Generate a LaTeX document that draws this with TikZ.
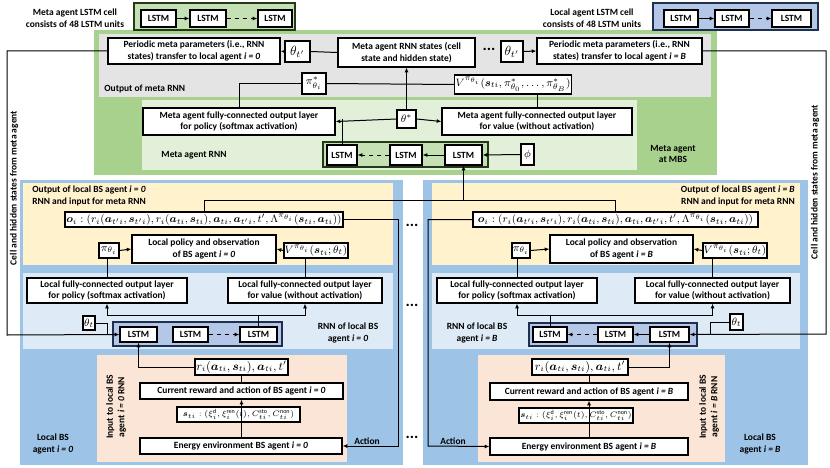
\documentclass[tikz,border=0pt]{standalone}
\usepackage{amsmath,bm}
\usepackage{fontspec}
\setmainfont{Carlito}
\usetikzlibrary{arrows.meta}
\definecolor{mgreen}{HTML}{A9D18E}
\definecolor{mgray}{HTML}{E4E4E4}
\definecolor{lgreen}{HTML}{E2F0D9}
\definecolor{rgreen}{HTML}{C5E0B4}
\definecolor{dgreen}{HTML}{243A16}
\definecolor{bblue}{HTML}{9DC3E6}
\definecolor{lblue}{HTML}{DEEBF7}
\definecolor{rblue}{HTML}{B4C7E7}
\definecolor{dblue}{HTML}{1F2F4F}
\definecolor{yel}{HTML}{FFF2CC}
\definecolor{pinkc}{HTML}{FBE5D6}
\newcommand{\bx}[7][]{\node[bxs,minimum width={((#5)-(#3))*0.75pt},minimum height={((#6)-(#4))*0.75pt},#1] (#2) at ({((#3)+(#5))/2},{((#4)+(#6))/2}) {#7};}
\begin{document}
\begin{tikzpicture}[x=0.75pt,y=-0.75pt,
  txt/.style={font=\bfseries\fontsize{7.1}{8.6}\selectfont,inner sep=0pt,align=center},
  bxs/.style={draw=black,fill=white,line width=0.9pt,inner sep=0.5pt,align=center,font=\bfseries\fontsize{7.1}{8.6}\selectfont},
  mth/.style={font=\fontsize{8}{9}\selectfont},
  big/.style={font=\fontsize{10}{10}\selectfont},
  con/.style={line width=0.75pt},
  arr/.style={line width=0.75pt,-{Latex[length=3.5pt,width=3pt]}},
  darr/.style={line width=0.75pt,-{Latex[length=3.5pt,width=3pt]},dash pattern=on 3.5pt off 2.5pt},
  dots/.style={font=\bfseries\fontsize{12}{12}\selectfont,inner sep=0pt}]
\useasboundingbox (0,0) rectangle (830,467);
% ---------- backgrounds
\fill[mgreen] (94,30) rectangle (717,175);
\fill[mgray] (99,34) rectangle (711,97);
\fill[lgreen] (142,100) rectangle (637,170);
\fill[bblue] (20,180) rectangle (403,465);
\fill[yel] (23,183) rectangle (393,265);
\fill[lblue] (23,273) rectangle (393,349);
\fill[pinkc] (97,355) rectangle (347,462);
\fill[bblue] (423,180) rectangle (808,465);
\fill[yel] (432,183) rectangle (800,265);
\fill[lblue] (432,273) rectangle (800,349);
\fill[pinkc] (478,355) rectangle (725,462);
% ---------- legends
\node[txt] (lgtxt) at (75,18) {Meta agent LSTM cell\\consists of 48 LSTM units};
\bx[fill=rgreen,draw=dgreen,line width=1.3pt]{legG}{134}{3}{295}{30}{}
\bx{gL1}{141}{10}{176}{27}{LSTM}
\bx{gL2}{190}{10}{226}{27}{LSTM}
\bx{gL3}{258}{10}{292}{27}{LSTM}
\draw[arr] (gL1.east) -- (gL2.west);
\draw[darr] (gL2.east) -- (gL3.west);
\node[txt] (rgtxt) at (592,18) {Local agent LSTM cell\\consists of 48 LSTM units};
\bx[fill=rblue,draw=dblue,line width=1.3pt]{legB}{653}{3}{818}{30}{}
\bx{bL1}{664}{10}{698}{27}{LSTM}
\bx{bL2}{715}{10}{749}{27}{LSTM}
\bx{bL3}{772}{10}{811}{27}{LSTM}
\draw[arr] (bL1.east) -- (bL2.west);
\draw[darr] (bL2.east) -- (bL3.west);
% ---------- meta agent
\bx{P0}{108}{38}{280}{64}{Periodic meta parameters (i.e., RNN\\states) transfer to local agent \textit{i = 0}}
\bx[big]{thL}{285}{41}{310}{62}{$\theta_{t'}$}
\bx{mst}{338}{38}{475}{67}{Meta agent RNN states (cell\\state and hidden state)}
\node[dots] (mdots) at (489,49) {...};
\bx[big]{thR}{501}{41}{523}{62}{$\theta_{t'}$}
\bx{PB}{537}{38}{702}{64}{Periodic meta parameters (i.e., RNN\\states) transfer to local agent \textit{i = B}}
\node[txt,anchor=west] (omr) at (104,89) {Output of meta RNN};
\bx[mth]{pistar}{302}{73}{326}{94}{$\pi^*_{\theta_i}$}
\bx[mth]{mV}{458}{75}{568}{94}{$V^{\pi_{\theta_i}}(\boldsymbol{s}_{ti},\pi^*_{\theta_0},\ldots,\pi^*_{\theta_B})$}
\bx{mpol}{143}{108}{335}{135}{Meta agent fully-connected output layer\\for policy (softmax activation)}
\bx[mth]{thstar}{397}{110}{416}{128}{$\theta^*$}
\bx{mval}{442}{108}{632}{135}{Meta agent fully-connected output layer\\for value (without activation)}
\node[txt] (mrnn) at (194,155) {Meta agent RNN};
\node[txt] (mbs) at (673,154) {Meta agent\\at MBS};
\bx[fill=rgreen,draw=dgreen,line width=1.1pt]{mrow}{323}{142}{488}{167}{}
\bx{mL1}{327}{145}{357}{165}{LSTM}
\bx{mL2}{390}{145}{422}{165}{LSTM}
\bx{mL3}{445}{145}{482}{165}{LSTM}
\bx[mth]{phi}{521}{144}{534}{165}{$\phi$}
% meta connectors
\draw[con] (mst.west) -- (thL.east);
\draw[arr] (thL.west) -- (P0.east);
\draw[arr] (thR.east) -- (PB.west);
\draw[arr] (thstar.north) -- (thstar.north |- mst.south);
\draw[arr] (thstar.west) -- (mpol.east);
\draw[arr] (thstar.east) -- (mval.west);
\draw[con] (mL1.north) -- (mL1.north |- thstar.west);
\draw[con] (mpol.north) |- (pistar.west);
\draw[con] (pistar.east) -- (mV.west);
\draw[con] (mV.south -| mval.north) -- (mval.north);
\draw[arr] (mL3.west) -- (mL2.east);
\draw[darr] (mL2.west) -- (mL1.east);
\draw[arr] (phi.west) -- (mL3.east);
% ---------- left BS agent
\node[txt,anchor=north west,align=left] (lout) at (32,186) {Output of local BS agent \textit{i = 0}\\RNN and input for meta RNN};
\bx[mth]{lo}{65}{212}{343}{227}{$\boldsymbol{o}_i:(r_i(\boldsymbol{a}_{t'i},\boldsymbol{s}_{t'i}),r_i(\boldsymbol{a}_{ti},\boldsymbol{s}_{ti}),\boldsymbol{a}_{ti},\boldsymbol{a}_{t'i},t',\Lambda^{\pi_{\theta_i}}(\boldsymbol{s}_{ti},\boldsymbol{a}_{ti}))$}
\bx[mth]{lpi}{99}{243}{119}{258}{$\pi_{\theta_i}$}
\bx{lpol}{132}{235}{276}{263}{Local policy and observation\\of BS agent \textit{i = 0}}
\bx[mth]{lV}{285}{243}{347}{258}{$V^{\pi_{\theta_i}}(\boldsymbol{s}_{ti};\theta_t)$}
\bx{lfcp}{27}{278}{187}{303}{Local fully-connected output layer\\for policy (softmax activation)}
\bx{lfcv}{228}{278}{382}{303}{Local fully-connected output layer\\for value (without activation)}
\bx[mth]{lth}{83}{316}{95}{330}{$\theta_t$}
\node[txt] (lrnn) at (348,333) {RNN of local BS\\agent \textit{i = 0}};
\bx[fill=rblue,draw=dblue,line width=1.1pt]{lrow}{113}{322}{282}{346}{}
\bx{lL1}{120}{327}{157}{342}{LSTM}
\bx{lL2}{173}{327}{208}{342}{LSTM}
\bx{lL3}{240}{327}{277}{342}{LSTM}
\bx[font=\fontsize{9}{10}\selectfont]{lr}{195}{359}{288}{375}{$r_i(\boldsymbol{a}_{ti},\boldsymbol{s}_{ti}),\boldsymbol{a}_{ti},t'$}
\bx{lcur}{140}{383}{343}{399}{Current reward and action of BS agent \textit{i = 0}}
\bx[font=\fontsize{6.5}{7}\selectfont]{ls}{177}{407}{300}{422}{$\boldsymbol{s}_{ti}:(\xi^{\mathrm{d}}_i,\xi^{\mathrm{ren}}_i(t),C^{\mathrm{sto}}_{ti},C^{\mathrm{non}}_{ti})$}
\bx{len}{140}{438}{342}{454}{Energy environment BS agent \textit{i = 0}}
\node[txt,rotate=90] (lin) at (116,407) {Input to local BS\\agent \textit{i = 0} RNN};
\node[txt] (lloc) at (53,444) {Local BS\\agent \textit{i = 0}};
\node[txt] (lact) at (367,441) {Action};
% ---------- right BS agent
\node[txt,anchor=north east,align=right] (rout) at (795,186) {Output of local BS agent \textit{i = B}\\RNN and input for meta RNN};
\bx[mth]{ro}{473}{212}{758}{227}{$\boldsymbol{o}_i:(r_i(\boldsymbol{a}_{t'i},\boldsymbol{s}_{t'i}),r_i(\boldsymbol{a}_{ti},\boldsymbol{s}_{ti}),\boldsymbol{a}_{ti},\boldsymbol{a}_{t'i},t',\Lambda^{\pi_{\theta_i}}(\boldsymbol{s}_{ti},\boldsymbol{a}_{ti}))$}
\bx[mth]{rpi}{512}{243}{530}{258}{$\pi_{\theta_i}$}
\bx{rpol}{550}{235}{693}{263}{Local policy and observation\\of BS agent \textit{i = B}}
\bx[mth]{rV}{703}{243}{767}{258}{$V^{\pi_{\theta_i}}(\boldsymbol{s}_{ti};\theta_t)$}
\bx{rfcp}{437}{278}{597}{303}{Local fully-connected output layer\\for policy (softmax activation)}
\bx{rfcv}{635}{278}{790}{303}{Local fully-connected output layer\\for value (without activation)}
\bx[mth]{rth}{730}{314}{743}{330}{$\theta_t$}
\node[txt] (rrnn) at (477,333) {RNN of local BS\\agent \textit{i = B}};
\bx[fill=rblue,draw=dblue,line width=1.1pt]{rrow}{529}{323}{697}{346}{}
\bx{rL1}{533}{327}{567}{342}{LSTM}
\bx{rL2}{598}{327}{633}{342}{LSTM}
\bx{rL3}{650}{327}{689}{342}{LSTM}
\bx[font=\fontsize{9}{10}\selectfont]{rr}{532}{359}{628}{375}{$r_i(\boldsymbol{a}_{ti},\boldsymbol{s}_{ti}),\boldsymbol{a}_{ti},t'$}
\bx{rcur}{490}{383}{688}{400}{Current reward and action of BS agent \textit{i = B}}
\bx[font=\fontsize{6.5}{7}\selectfont]{rs}{519}{408}{633}{423}{$\boldsymbol{s}_{ti}:(\xi^{\mathrm{d}}_i,\xi^{\mathrm{ren}}_i(t),C^{\mathrm{sto}}_{ti},C^{\mathrm{non}}_{ti})$}
\bx{ren}{490}{438}{688}{455}{Energy environment BS agent \textit{i = B}}
\node[txt,rotate=90] (rin) at (709,407) {Input to local BS\\agent \textit{i = B} RNN};
\node[txt] (rloc) at (760,444) {Local BS\\agent \textit{i = B}};
\node[txt] (ract) at (453,441) {Action};
% ---------- dots between agents
\node[dots] (d1) at (412,225) {...};
\node[dots] (d2) at (412,305) {...};
\node[dots] (d3) at (412,437) {...};
% ---------- side texts
\node[txt,rotate=90] (lcell) at (14,188) {Cell and hidden states from meta agent};
\node[txt,rotate=90] (rcell) at (815,182) {Cell and hidden states from meta agent};
% ---------- coordinates
\coordinate (feed) at (463,200);
\coordinate (cL) at (7,335);
\coordinate (jL) at (107,335);
\coordinate (cR) at (826,334);
\coordinate (jR) at (710,334);
\coordinate (aL) at (398,446);
\coordinate (aR) at (428,446);
\coordinate (hL) at (0,315);
% ---------- local connectors
\draw[con] (lo.north) |- (ro.north |- feed) -- (ro.north);
\draw[arr] (mL3.south |- feed) -- (mL3.south);
\draw[arr] (P0.west) -| (cL) -- (lL1.west);
\draw[con] (lth.east) -| (jL);
\draw[arr] (PB.east) -| (cR) -- (rL3.east);
\draw[con] (rth.west) -| (jR);
% left
\draw[arr] (lpi.east) -- (lpol.west);
\draw[arr] (lV.west) -- (lpol.east);
\draw[con] (lfcp.north |- lpi.south) -- (lfcp.north);
\draw[con] (lfcv.north |- lV.south) -- (lfcv.north);
\draw[con] (lL3.north) -- (lL3.north |- hL);
\draw[arr] (lfcp.south |- hL) -- (lfcp.south);
\draw[arr] (lfcp.south |- hL) -- (lfcv.south |- hL) -- (lfcv.south);
\draw[darr] (lL2.east) -- (lL3.west);
\draw[arr] (lr.west) -| (lL1.south);
\draw[con] (lcur.north) -- (lr.south -| lcur.north);
\draw[arr] (ls.south -| lcur.south) -- (lcur.south);
\draw[con] (len.north) -- (ls.south -| len.north);
\draw[arr] (lo.east) -| (aL) -- (len.east);
% right
\draw[arr] (rpi.east) -- (rpol.west);
\draw[arr] (rV.west) -- (rpol.east);
\draw[con] (rfcp.north |- rpi.south) -- (rfcp.north);
\draw[con] (rfcv.north |- rV.south) -- (rfcv.north);
\draw[con] (rL1.north) -- (rL1.north |- hL);
\draw[arr] (rfcp.south |- hL) -- (rfcp.south);
\draw[arr] (rfcp.south |- hL) -- (rfcv.south |- hL) -- (rfcv.south);
\draw[arr] (rL3.west) -- (rL2.east);
\draw[darr] (rL2.west) -- (rL1.east);
\draw[arr] (rr.east) -| (rL3.south);
\draw[con] (rcur.north) -- (rr.south -| rcur.north);
\draw[arr] (rs.south -| rcur.south) -- (rcur.south);
\draw[con] (ren.north) -- (rs.south -| ren.north);
\draw[arr] (ro.west) -| (aR) -- (ren.west);
\end{tikzpicture}
\end{document}
